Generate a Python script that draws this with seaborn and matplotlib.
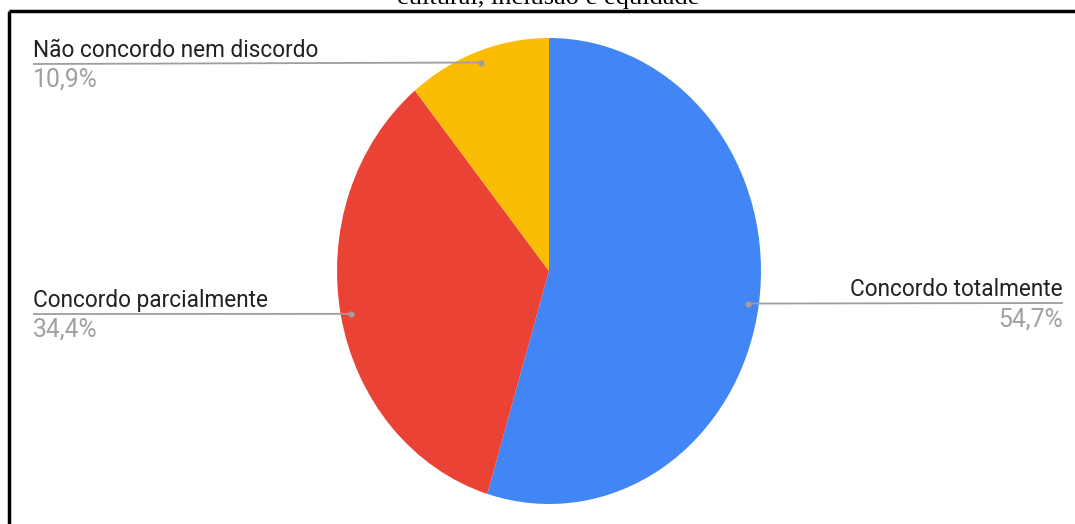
import numpy as np
import matplotlib
matplotlib.use("Agg")
import matplotlib.pyplot as plt
import seaborn as sns

# ---- data ----
categories = ["Concordo totalmente", "Concordo parcialmente", "Não concordo nem discordo"]
values = [54.7, 34.4, 10.9]
pct_labels = ["54,7%", "34,4%", "10,9%"]
colors = ["#4285F4", "#EA4335", "#FBBC04"]
title_text = "cultural, inclusão e equidade"

sns.set_style("white")
plt.rcParams["font.family"] = ["Roboto", "DejaVu Sans"]

W, H = 1075, 524
fig = plt.figure(figsize=(W / 100, H / 100), dpi=100)

# pie axes (elliptical pie, as in the reference)
pl, pr, pt, pb = 337, 761, 38, 504
ax = fig.add_axes([pl / W, 1 - pb / H, (pr - pl) / W, (pb - pt) / H])
palette = sns.color_palette(colors)
wedges, _ = ax.pie(values, colors=palette, startangle=90, counterclock=False,
                   radius=1.0, wedgeprops=dict(linewidth=0))
ax.set_xlim(-1, 1)
ax.set_ylim(-1, 1)
ax.set_aspect("auto")
ax.axis("off")

# overlay axes in pixel coordinates (y downward)
ov = fig.add_axes([0, 0, 1, 1], facecolor="none")
ov.set_xlim(0, W)
ov.set_ylim(H, 0)
ov.axis("off")

def to_ov(x, y):
    d = ax.transData.transform((x, y))
    return ov.transData.inverted().transform(d)

# label layout: (text x, align, label baseline, underline y, pct baseline)
layout = {
    "Concordo totalmente": (1063, "right", 296, 303, 326),
    "Concordo parcialmente": (33, "left", 307, 314, 337),
    "Não concordo nem discordo": (33, "left", 57, 64, 87),
}

line_col = "#9E9E9E"
for w, cat, pct in zip(wedges, categories, pct_labels):
    mid = np.deg2rad((w.theta1 + w.theta2) / 2)
    dx, dy = to_ov(0.95 * np.cos(mid), 0.95 * np.sin(mid))
    tx, ha, yb, yl, yp = layout[cat]
    ov.plot([tx, dx], [yl, dy], color=line_col, lw=1.3, solid_capstyle="butt")
    ov.plot([dx], [dy], "o", color=line_col, ms=4.5, mec="none")
    ov.text(tx, yb, cat, ha=ha, va="baseline", fontsize=16.3, color="#222222")
    ov.text(tx, yp, pct, ha=ha, va="baseline", fontsize=17.8, color="#A0A0A0")

# frame
ov.plot([9, W + 5], [11, 11], color="black", lw=2.5, solid_capstyle="butt")
ov.plot([9, 9], [11, H + 5], color="black", lw=2.5, solid_capstyle="butt")

# title (partly hidden above the frame, as in the reference)
ov.text(548, 4, title_text, ha="center", va="baseline", fontsize=19,
        family=["Liberation Serif", "DejaVu Serif"], color="black")

fig.savefig("out.png", dpi=100)
